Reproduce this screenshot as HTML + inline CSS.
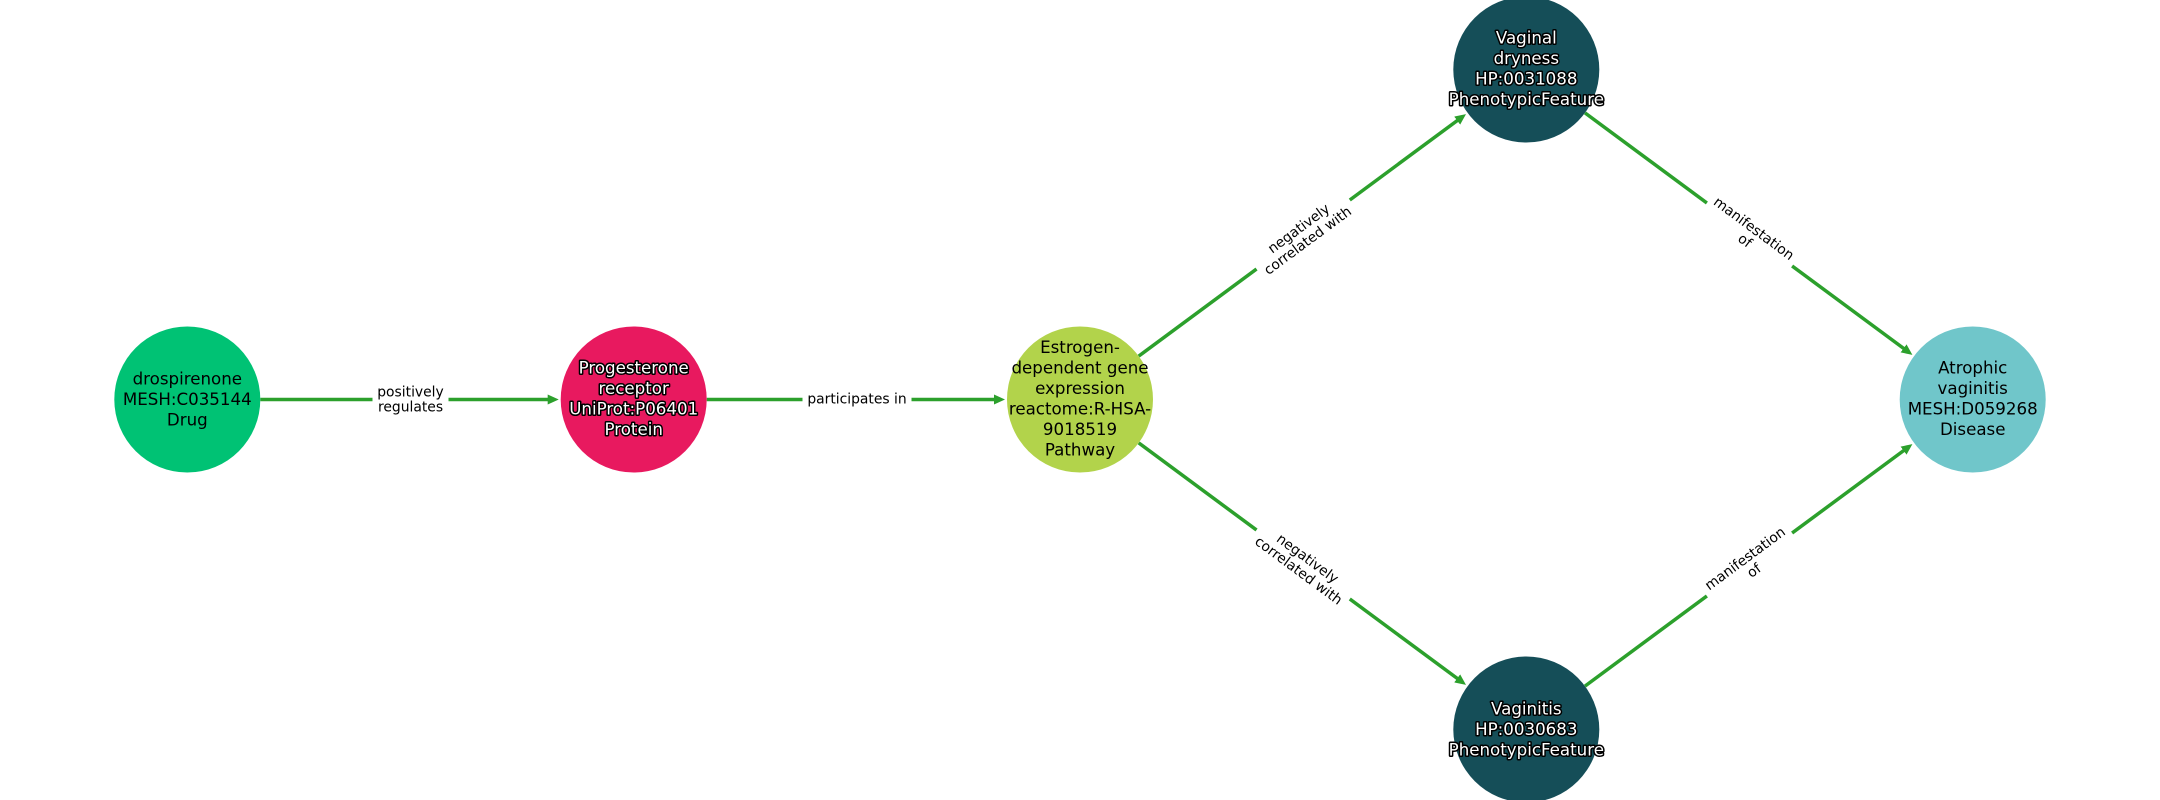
<!DOCTYPE html>
<html>
<head>
<meta charset="utf-8">
<style>
  html, body { margin: 0; padding: 0; background: #ffffff; }
  svg { display: block; }
  text { font-family: "DejaVu Sans", "Liberation Sans", sans-serif; }
  .nl { font-size: 16.67px; text-anchor: middle; fill: #000; }
  .nw { font-size: 16.67px; text-anchor: middle; fill: #fff; stroke: #000; stroke-width: 3; paint-order: stroke; stroke-linejoin: round; }
  .el { font-size: 13.89px; text-anchor: middle; fill: #000; }
</style>
</head>
<body>
<svg width="2160" height="800" viewBox="0 0 2160 800" xmlns="http://www.w3.org/2000/svg">
  <defs>
    <marker id="ah" markerUnits="userSpaceOnUse" markerWidth="11" markerHeight="10" viewBox="0 0 11 10" refX="3" refY="5" orient="auto">
      <path d="M0,0 L11,5 L0,10 Z" fill="#2ca02c"/>
    </marker>
  </defs>
  <rect width="2160" height="800" fill="#ffffff"/>

  <!-- edges -->
  <g stroke="#2ca02c" stroke-width="3.5" fill="none">
    <line x1="260.3" y1="399.5" x2="550.7" y2="399.5" marker-end="url(#ah)"/>
    <line x1="706.7" y1="399.5" x2="997" y2="399.5" marker-end="url(#ah)"/>
    <line x1="1138.69" y1="356.10" x2="1459.57" y2="118.85" marker-end="url(#ah)"/>
    <line x1="1138.69" y1="442.90" x2="1459.57" y2="680.15" marker-end="url(#ah)"/>
    <line x1="1584.99" y1="112.90" x2="1905.97" y2="350.15" marker-end="url(#ah)"/>
    <line x1="1584.99" y1="686.10" x2="1905.97" y2="448.85" marker-end="url(#ah)"/>
  </g>

  <!-- edge labels -->
  <g transform="translate(410.5,399.5)">
    <rect x="-38" y="-18" width="76" height="36" rx="4" fill="#fff"/>
    <text class="el" x="0" y="-2.8">positively</text>
    <text class="el" x="0" y="12.2">regulates</text>
  </g>
  <g transform="translate(857,399.5)">
    <rect x="-54.5" y="-12" width="109" height="24" rx="4" fill="#fff"/>
    <text class="el" x="0" y="4">participates in</text>
  </g>
  <g transform="translate(1303.15,234.5) rotate(-36.48)">
    <rect x="-58" y="-18" width="116" height="36" rx="4" fill="#fff"/>
    <text class="el" x="0" y="-2.8">negatively</text>
    <text class="el" x="0" y="12.2">correlated with</text>
  </g>
  <g transform="translate(1303.15,564.5) rotate(36.48)">
    <rect x="-58" y="-18" width="116" height="36" rx="4" fill="#fff"/>
    <text class="el" x="0" y="-2.8">negatively</text>
    <text class="el" x="0" y="12.2">correlated with</text>
  </g>
  <g transform="translate(1749.5,234.5) rotate(36.48)">
    <rect x="-53" y="-18" width="106" height="36" rx="4" fill="#fff"/>
    <text class="el" x="0" y="-2.8">manifestation</text>
    <text class="el" x="0" y="12.2">of</text>
  </g>
  <g transform="translate(1749.5,564.5) rotate(-36.48)">
    <rect x="-53" y="-18" width="106" height="36" rx="4" fill="#fff"/>
    <text class="el" x="0" y="-2.8">manifestation</text>
    <text class="el" x="0" y="12.2">of</text>
  </g>

  <!-- nodes -->
  <circle cx="187.3" cy="399.5" r="73" fill="#00c274"/>
  <circle cx="633.7" cy="399.5" r="73" fill="#e8195f"/>
  <circle cx="1080" cy="399.5" r="73" fill="#b2d34b"/>
  <circle cx="1526.3" cy="69.5" r="73" fill="#154e58"/>
  <circle cx="1526.3" cy="729.5" r="73" fill="#154e58"/>
  <circle cx="1972.7" cy="399.5" r="73" fill="#70c6ca"/>

  <!-- node labels -->
  <text class="nl" x="187.3" y="384.5">drospirenone</text>
  <text class="nl" x="187.3" y="405">MESH:C035144</text>
  <text class="nl" x="187.3" y="425.5">Drug</text>

  <text class="nw" x="633.7" y="373.5">Progesterone</text>
  <text class="nw" x="633.7" y="394">receptor</text>
  <text class="nw" x="633.7" y="414.5">UniProt:P06401</text>
  <text class="nw" x="633.7" y="435">Protein</text>

  <text class="nl" x="1080" y="353">Estrogen-</text>
  <text class="nl" x="1080" y="373.5">dependent gene</text>
  <text class="nl" x="1080" y="394">expression</text>
  <text class="nl" x="1080" y="414.5">reactome:R-HSA-</text>
  <text class="nl" x="1080" y="435">9018519</text>
  <text class="nl" x="1080" y="455.5">Pathway</text>

  <text class="nw" x="1526.3" y="43.5">Vaginal</text>
  <text class="nw" x="1526.3" y="64">dryness</text>
  <text class="nw" x="1526.3" y="84.5">HP:0031088</text>
  <text class="nw" x="1526.3" y="105">PhenotypicFeature</text>

  <text class="nw" x="1526.3" y="714.5">Vaginitis</text>
  <text class="nw" x="1526.3" y="735">HP:0030683</text>
  <text class="nw" x="1526.3" y="755.5">PhenotypicFeature</text>

  <text class="nl" x="1972.7" y="373.5">Atrophic</text>
  <text class="nl" x="1972.7" y="394">vaginitis</text>
  <text class="nl" x="1972.7" y="414.5">MESH:D059268</text>
  <text class="nl" x="1972.7" y="435">Disease</text>
</svg>
</body>
</html>
